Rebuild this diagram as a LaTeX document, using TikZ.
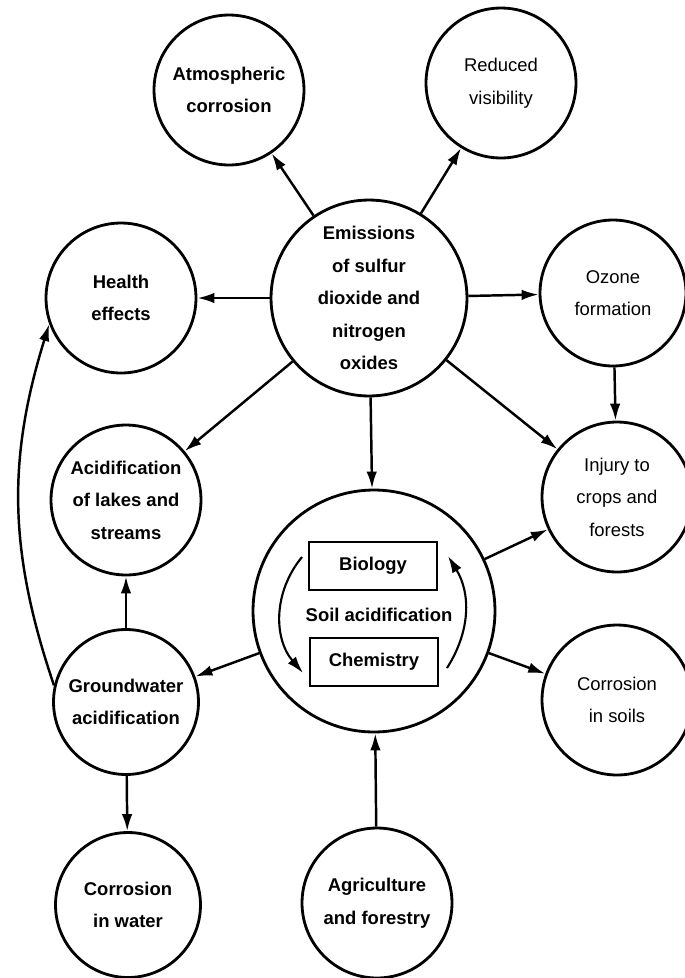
\documentclass[tikz,border=0pt]{standalone}
\usepackage{fontspec}
\setmainfont{Liberation Sans}
\usetikzlibrary{arrows.meta}
\usetikzlibrary{positioning}

\tikzset{
	blob/.style={circle, draw, line width=1.6pt, minimum size=3cm, inner sep=0pt},
	lbl/.style={align=center, font=\bfseries\fontsize{10.5}{18.5}\selectfont},
	lbllight/.style={lbl, font=\fontsize{10.5}{18.5}\selectfont},
	box/.style={draw, line width=1.4pt, minimum width=2.56cm, minimum height=0.96cm, font=\bfseries\fontsize{10.5}{12}\selectfont},
}

\begin{document}
\begin{tikzpicture}[x=0.02cm, y=-0.02cm, >={Latex[length=3.4mm,width=2.1mm]}, line width=1.4pt]
			\useasboundingbox (0,0) rectangle (685,978);
			
			\node[blob, minimum size=3.92cm, label={[lbl]center:Emissions\\of sulfur\\dioxide and\\nitrogen\\oxides}] (emis) at (369,298) {};
			\node[blob, label={[lbl]center:Atmospheric\\corrosion}] (atmo) at (229,90) {};
			\node[blob, label={[lbllight]center:Reduced\\visibility}] (vis) at (501,83) {};
			\node[blob, label={[lbl]center:Health\\effects}] (health) at (121,298) {};
			\node[blob, minimum size=2.92cm, label={[lbllight]center:Ozone\\formation}] (ozone) at (613,293) {};
			\node[blob, label={[lbl]center:Acidification\\of lakes and\\streams}] (lakes) at (126,500) {};
			\node[blob, label={[lbllight]center:Injury to\\crops and\\forests}] (injury) at (617,497) {};
			\node[blob, minimum size=4.84cm] (soil) at (374,611) {};
			\node[blob, minimum size=2.9cm, label={[lbl]center:Groundwater\\acidification}] (ground) at (126,702) {};
			\node[blob, label={[lbllight]center:Corrosion\\in soils}] (corsoil) at (617,700) {};
			\node[blob, minimum size=2.9cm, label={[lbl]center:Corrosion\\in water}] (corwater) at (128,905) {};
			\node[blob, label={[lbl]center:Agriculture\\and forestry}] (agri) at (377,903) {};
			
			% inside the soil circle
			\node[box] (bio) at (373,566) {Biology};
			\node[box] (chem) at (374,662) {Chemistry};
			\node[lbl] (soiltxt) at (379,615) {Soil acidification};
			\coordinate (la) at (302,557);
			\coordinate (lb) at (303,673);
			\coordinate (ra) at (447,668);
			\coordinate (rb) at (448,556);
			
			\path[->] (emis) edge (atmo)
			(emis) edge (vis)
			(emis) edge (health)
			(emis) edge (ozone)
			(emis) edge (lakes)
			(emis) edge (injury)
			(emis) edge (soil)
			(ozone) edge (injury)
			(soil) edge (injury)
			(soil) edge (corsoil)
			(soil) edge (ground)
			(agri) edge (soil)
			(ground) edge (lakes)
			(ground) edge (corwater)
			(ground.167) edge[bend left=18] (health.200);
			
			\draw[->, line width=1.2pt] (la) to[bend right=40] (lb);
			\draw[->, line width=1.2pt] (ra) to[bend right=32] (rb);
		\end{tikzpicture}
\end{document}
